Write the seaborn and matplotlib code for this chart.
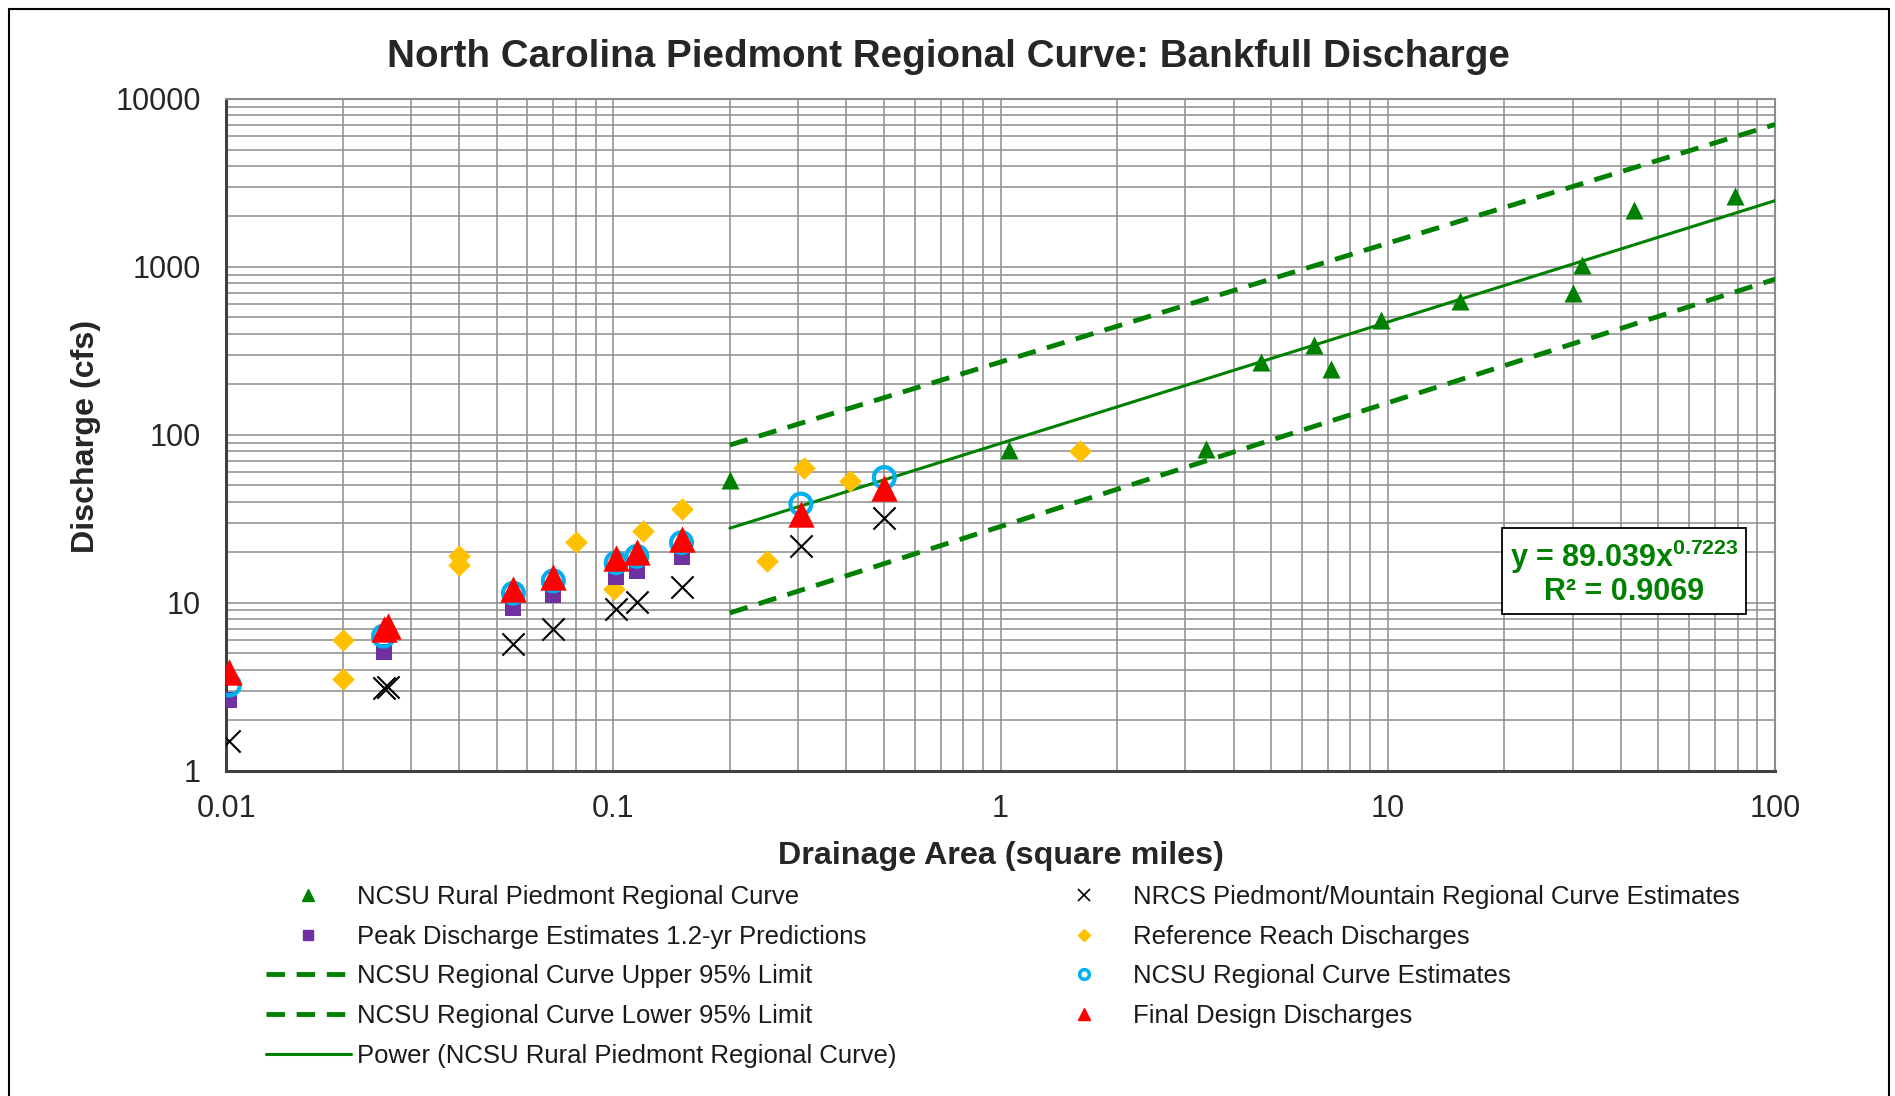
import numpy as np
import matplotlib
matplotlib.use("Agg")
import matplotlib.pyplot as plt
import seaborn as sns
from matplotlib.lines import Line2D
from matplotlib.ticker import LogLocator, FixedFormatter, NullFormatter

# --- data ---
# NCSU Rural Piedmont Regional Curve (green triangles)
rural_area = [0.2, 1.05, 3.4, 4.7, 6.46, 7.15, 9.6, 15.4, 30.0, 31.8, 43.1, 78.7]
rural_q = [54, 81, 82, 272, 343, 247, 484, 625, 702, 1030, 2195, 2650]

# Peak Discharge Estimates 1.2-yr Predictions (purple squares)
peak_area = [0.0102, 0.0255, 0.0552, 0.070, 0.1017, 0.115, 0.150]
peak_q = [2.63, 5.1, 9.25, 11.1, 14.3, 15.5, 18.8]

# NRCS Piedmont/Mountain Regional Curve Estimates (black x)
nrcs_area = [0.0102, 0.0255, 0.0262, 0.0552, 0.070, 0.1017, 0.115, 0.150, 0.305, 0.501]
nrcs_q = [1.51, 3.12, 3.15, 5.68, 6.94, 9.2, 10.1, 12.4, 21.8, 31.8]

# Reference Reach Discharges (yellow diamonds)
ref_area = [0.020, 0.020, 0.040, 0.040, 0.080, 0.1005, 0.119, 0.150, 0.249, 0.310, 0.408, 1.60]
ref_q = [6.0, 3.5, 18.9, 16.8, 23.0, 12.0, 26.8, 36.1, 17.8, 63.6, 53.2, 80.0]

# NCSU Regional Curve Estimates (blue open circles)
est_area = [0.0102, 0.0255, 0.0552, 0.070, 0.1017, 0.115, 0.150, 0.305, 0.501]
est_q = [3.24, 6.33, 11.4, 13.5, 17.3, 18.9, 22.8, 38.7, 55.7]

# Final Design Discharges (red triangles)
final_area = [0.0102, 0.0255, 0.0262, 0.0552, 0.070, 0.1017, 0.115, 0.150, 0.305, 0.501]
final_q = [3.85, 7.0, 7.3, 12.0, 14.3, 18.6, 20.1, 24.1, 33.9, 48.0]

# regional curve lines (end points)
upper_area = [0.2, 100]
upper_q = [87, 7050]
lower_area = [0.2, 100]
lower_q = [8.7, 845]
power_area = [0.2, 100]
power_q = [27.8, 2480]

x_ticks = [0.01, 0.1, 1, 10, 100]
x_tick_labels = ["0.01", "0.1", "1", "10", "100"]
y_ticks = [1, 10, 100, 1000, 10000]
y_tick_labels = ["1", "10", "100", "1000", "10000"]

GREEN = "#008000"
PURPLE = "#7030A0"
GOLD = "#FFC000"
CYAN = "#00B0F0"
RED = "#FF0000"
GRID = "#8C8C8C"

sns.set_style("white")
plt.rcParams["font.family"] = ["Liberation Sans", "DejaVu Sans"]
plt.rcParams["mathtext.default"] = "regular"

fig = plt.figure(figsize=(18.95, 10.96), dpi=100)
ax = fig.add_axes([0.1193, 0.2968, 0.8174, 0.6129])
ax.set_xscale("log")
ax.set_yscale("log")
ax.set_xlim(0.01, 100)
ax.set_ylim(1, 10000)

# grid
ax.xaxis.set_minor_locator(LogLocator(base=10, subs=np.arange(2, 10)))
ax.yaxis.set_minor_locator(LogLocator(base=10, subs=np.arange(2, 10)))
ax.grid(True, which="both", color=GRID, linewidth=1.1)
ax.set_axisbelow(True)

# lines
dash = (0, (3.8, 2.4))
sns.lineplot(x=upper_area, y=upper_q, ax=ax, color=GREEN, linewidth=3.5,
             linestyle=dash, zorder=3)
sns.lineplot(x=lower_area, y=lower_q, ax=ax, color=GREEN, linewidth=3.5,
             linestyle=dash, zorder=3)
sns.lineplot(x=power_area, y=power_q, ax=ax, color=GREEN, linewidth=2.2, zorder=3)

# points
sns.scatterplot(x=nrcs_area, y=nrcs_q, ax=ax, marker="x", color="black",
                s=16 ** 2, linewidth=1.5, zorder=4)
sns.scatterplot(x=ref_area, y=ref_q, ax=ax, marker="D", color=GOLD,
                s=11.5 ** 2, linewidth=0, zorder=4)
sns.scatterplot(x=peak_area, y=peak_q, ax=ax, marker="s", color=PURPLE,
                s=12 ** 2, linewidth=0, zorder=4)
sns.scatterplot(x=est_area, y=est_q, ax=ax, marker="o", facecolor="none",
                edgecolor=CYAN, s=15 ** 2, linewidth=3, zorder=5)
sns.scatterplot(x=final_area, y=final_q, ax=ax, marker="^", color=RED,
                s=19 ** 2, linewidth=0, zorder=6)
sns.scatterplot(x=rural_area, y=rural_q, ax=ax, marker="^", color=GREEN,
                s=13 ** 2, linewidth=0, zorder=6)

# axes styling
ax.set_xticks(x_ticks)
ax.xaxis.set_major_formatter(FixedFormatter(x_tick_labels))
ax.set_yticks(y_ticks)
ax.yaxis.set_major_formatter(FixedFormatter(y_tick_labels))
ax.xaxis.set_minor_formatter(NullFormatter())
ax.yaxis.set_minor_formatter(NullFormatter())
ax.tick_params(which="major", direction="out", length=6, width=1.3, color="black",
               labelsize=22)
ax.tick_params(axis="x", which="major", pad=11)
ax.tick_params(axis="y", which="major", pad=12)
ax.tick_params(which="minor", length=0)
for side in ["left", "bottom"]:
    ax.spines[side].set_color("#404040")
    ax.spines[side].set_linewidth(2.2)
for side in ["top", "right"]:
    ax.spines[side].set_color(GRID)
    ax.spines[side].set_linewidth(1.5)
ax.set_xlabel("")
ax.set_ylabel("")

# titles and axis labels
fig.text(0.5003, 0.948, "North Carolina Piedmont Regional Curve: Bankfull Discharge",
         ha="center", va="center", fontsize=27.8, fontweight="bold")
fig.text(0.528, 0.219, "Drainage Area (square miles)", ha="center", va="center",
         fontsize=23.2, fontweight="bold")
fig.text(0.0455, 0.602, "Discharge (cfs)", ha="center", va="center", rotation=90,
         fontsize=23.2, fontweight="bold")

# equation box
ax.text(0.9025, 0.2958, "y = 89.039x$^{0.7223}$\nR² = 0.9069", transform=ax.transAxes,
        ha="center", va="center", multialignment="center", fontsize=22,
        fontweight="bold", color=GREEN, linespacing=1.05, zorder=7,
        bbox=dict(boxstyle="square,pad=0.25", fc="white", ec="black", lw=1.3))

# legend
col1 = [
    Line2D([], [], linestyle="none", marker="^", color=GREEN, markersize=8),
    Line2D([], [], linestyle="none", marker="s", color=PURPLE, markersize=7),
    Line2D([], [], color=GREEN, linewidth=3.5, linestyle=dash),
    Line2D([], [], color=GREEN, linewidth=3.5, linestyle=dash),
    Line2D([], [], color=GREEN, linewidth=2.2),
]
col1_labels = ["NCSU Rural Piedmont Regional Curve",
               "Peak Discharge Estimates 1.2-yr Predictions",
               "NCSU Regional Curve Upper 95% Limit",
               "NCSU Regional Curve Lower 95% Limit",
               "Power (NCSU Rural Piedmont Regional Curve)"]
col2 = [
    Line2D([], [], linestyle="none", marker="x", color="black", markersize=8,
           markeredgewidth=1.2),
    Line2D([], [], linestyle="none", marker="D", color=GOLD, markersize=6),
    Line2D([], [], linestyle="none", marker="o", markerfacecolor="none",
           markeredgecolor=CYAN, markersize=7, markeredgewidth=2.5),
    Line2D([], [], linestyle="none", marker="^", color=RED, markersize=8),
]
col2_labels = ["NRCS Piedmont/Mountain Regional Curve Estimates",
               "Reference Reach Discharges",
               "NCSU Regional Curve Estimates",
               "Final Design Discharges"]

leg_kw = dict(loc="upper left", frameon=False, fontsize=18.5, handlelength=3.3,
              handletextpad=0.25, labelspacing=0.61, borderpad=0, borderaxespad=0)
leg1 = fig.legend(col1, col1_labels, bbox_to_anchor=(0.1404, 0.1925), **leg_kw)
leg2 = fig.legend(col2, col2_labels, bbox_to_anchor=(0.5499, 0.1925), **leg_kw)
for leg in (leg1, leg2):
    for t in leg.get_texts():
        t.set_color("#1a1a1a")

# outer chart frame
fig.add_artist(Line2D([0.0045, 0.0045], [0, 0.9922], color="black", lw=1.5))
fig.add_artist(Line2D([0.0045, 0.9968], [0.9922, 0.9922], color="black", lw=1.5))
fig.add_artist(Line2D([0.9968, 0.9968], [0, 0.9922], color="black", lw=1.5))

fig.savefig("out.png", dpi=100)
